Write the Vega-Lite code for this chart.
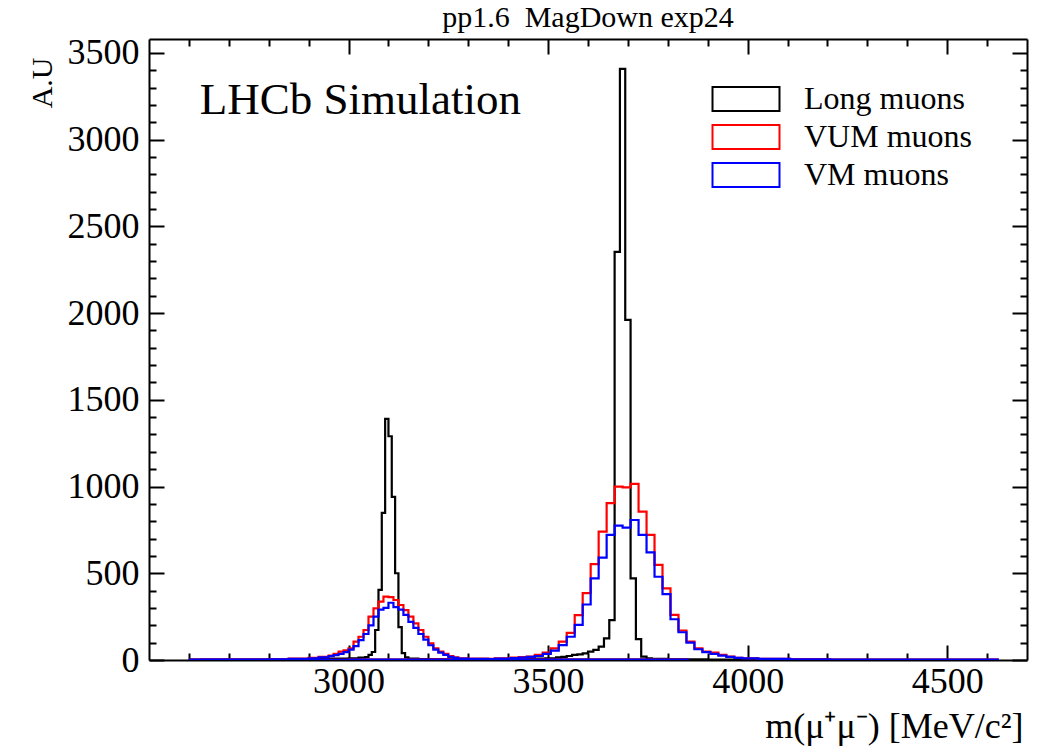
{
  "$schema": "https://vega.github.io/schema/vega-lite/v6.json",
  "width": 878,
  "height": 621,
  "autosize": {"type": "none"},
  "padding": {"left": 149, "top": 39, "right": 14, "bottom": 89},
  "background": "white",
  "config": {"font": "Liberation Serif", "view": {"stroke": null}},
  "title": {"text": "pp1.6\u00a0 MagDown exp24", "font": "Liberation Serif", "fontSize": 30, "fontWeight": "normal", "color": "black", "anchor": "middle", "offset": 2},
  "layer": [
    {
      "data": {"values": [
        {"sample":"Long muons","peak":"jpsi","mass":2600,"count":2},
        {"sample":"Long muons","peak":"jpsi","mass":2700,"count":3},
        {"sample":"Long muons","peak":"jpsi","mass":2800,"count":4},
        {"sample":"Long muons","peak":"jpsi","mass":2900,"count":6},
        {"sample":"Long muons","peak":"jpsi","mass":2950,"count":8},
        {"sample":"Long muons","peak":"jpsi","mass":3000,"count":10},
        {"sample":"Long muons","peak":"jpsi","mass":3025,"count":14},
        {"sample":"Long muons","peak":"jpsi","mass":3041.7,"count":17},
        {"sample":"Long muons","peak":"jpsi","mass":3050,"count":30},
        {"sample":"Long muons","peak":"jpsi","mass":3058.3,"count":46},
        {"sample":"Long muons","peak":"jpsi","mass":3066.7,"count":173},
        {"sample":"Long muons","peak":"jpsi","mass":3075,"count":404},
        {"sample":"Long muons","peak":"jpsi","mass":3083.3,"count":848},
        {"sample":"Long muons","peak":"jpsi","mass":3091.7,"count":1390},
        {"sample":"Long muons","peak":"jpsi","mass":3100,"count":1290},
        {"sample":"Long muons","peak":"jpsi","mass":3108.3,"count":940},
        {"sample":"Long muons","peak":"jpsi","mass":3116.7,"count":500},
        {"sample":"Long muons","peak":"jpsi","mass":3125,"count":190},
        {"sample":"Long muons","peak":"jpsi","mass":3133.3,"count":40},
        {"sample":"Long muons","peak":"jpsi","mass":3141.7,"count":15},
        {"sample":"Long muons","peak":"jpsi","mass":3150,"count":8},
        {"sample":"Long muons","peak":"jpsi","mass":3175,"count":5},
        {"sample":"Long muons","peak":"jpsi","mass":3250,"count":3},
        {"sample":"Long muons","peak":"jpsi","mass":3400,"count":2},
        {"sample":"Long muons","peak":"jpsi","mass":3850,"count":0},
        {"sample":"Long muons","peak":"psi2s","mass":2626.7,"count":0},
        {"sample":"Long muons","peak":"psi2s","mass":3000,"count":1},
        {"sample":"Long muons","peak":"psi2s","mass":3300,"count":3},
        {"sample":"Long muons","peak":"psi2s","mass":3400,"count":6},
        {"sample":"Long muons","peak":"psi2s","mass":3453.3,"count":8},
        {"sample":"Long muons","peak":"psi2s","mass":3493.3,"count":10},
        {"sample":"Long muons","peak":"psi2s","mass":3520,"count":15},
        {"sample":"Long muons","peak":"psi2s","mass":3533.3,"count":18},
        {"sample":"Long muons","peak":"psi2s","mass":3546.7,"count":23},
        {"sample":"Long muons","peak":"psi2s","mass":3560,"count":30},
        {"sample":"Long muons","peak":"psi2s","mass":3573.3,"count":33},
        {"sample":"Long muons","peak":"psi2s","mass":3586.7,"count":38},
        {"sample":"Long muons","peak":"psi2s","mass":3600,"count":48},
        {"sample":"Long muons","peak":"psi2s","mass":3613.3,"count":58},
        {"sample":"Long muons","peak":"psi2s","mass":3626.7,"count":77},
        {"sample":"Long muons","peak":"psi2s","mass":3640,"count":125},
        {"sample":"Long muons","peak":"psi2s","mass":3653.3,"count":230},
        {"sample":"Long muons","peak":"psi2s","mass":3666.7,"count":2353},
        {"sample":"Long muons","peak":"psi2s","mass":3680,"count":3408},
        {"sample":"Long muons","peak":"psi2s","mass":3693.3,"count":1961},
        {"sample":"Long muons","peak":"psi2s","mass":3706.7,"count":470},
        {"sample":"Long muons","peak":"psi2s","mass":3720,"count":120},
        {"sample":"Long muons","peak":"psi2s","mass":3733.3,"count":20},
        {"sample":"Long muons","peak":"psi2s","mass":3746.7,"count":10},
        {"sample":"Long muons","peak":"psi2s","mass":3760,"count":6},
        {"sample":"Long muons","peak":"psi2s","mass":3800,"count":4},
        {"sample":"Long muons","peak":"psi2s","mass":3900,"count":2},
        {"sample":"Long muons","peak":"psi2s","mass":4000,"count":1},
        {"sample":"Long muons","peak":"psi2s","mass":4626.7,"count":0},

        {"sample":"VUM muons","peak":"jpsi","mass":2600,"count":2},
        {"sample":"VUM muons","peak":"jpsi","mass":2700,"count":3},
        {"sample":"VUM muons","peak":"jpsi","mass":2800,"count":5},
        {"sample":"VUM muons","peak":"jpsi","mass":2850,"count":8},
        {"sample":"VUM muons","peak":"jpsi","mass":2900,"count":12},
        {"sample":"VUM muons","peak":"jpsi","mass":2925,"count":18},
        {"sample":"VUM muons","peak":"jpsi","mass":2950,"count":25},
        {"sample":"VUM muons","peak":"jpsi","mass":2962.5,"count":35},
        {"sample":"VUM muons","peak":"jpsi","mass":2975,"count":48},
        {"sample":"VUM muons","peak":"jpsi","mass":2987.5,"count":55},
        {"sample":"VUM muons","peak":"jpsi","mass":3000,"count":67},
        {"sample":"VUM muons","peak":"jpsi","mass":3012.5,"count":106},
        {"sample":"VUM muons","peak":"jpsi","mass":3025,"count":134},
        {"sample":"VUM muons","peak":"jpsi","mass":3037.5,"count":173},
        {"sample":"VUM muons","peak":"jpsi","mass":3050,"count":250},
        {"sample":"VUM muons","peak":"jpsi","mass":3062.5,"count":298},
        {"sample":"VUM muons","peak":"jpsi","mass":3075,"count":336},
        {"sample":"VUM muons","peak":"jpsi","mass":3087.5,"count":365},
        {"sample":"VUM muons","peak":"jpsi","mass":3100,"count":362},
        {"sample":"VUM muons","peak":"jpsi","mass":3112.5,"count":346},
        {"sample":"VUM muons","peak":"jpsi","mass":3125,"count":317},
        {"sample":"VUM muons","peak":"jpsi","mass":3137.5,"count":288},
        {"sample":"VUM muons","peak":"jpsi","mass":3150,"count":250},
        {"sample":"VUM muons","peak":"jpsi","mass":3162.5,"count":211},
        {"sample":"VUM muons","peak":"jpsi","mass":3175,"count":173},
        {"sample":"VUM muons","peak":"jpsi","mass":3187.5,"count":134},
        {"sample":"VUM muons","peak":"jpsi","mass":3200,"count":96},
        {"sample":"VUM muons","peak":"jpsi","mass":3212.5,"count":67},
        {"sample":"VUM muons","peak":"jpsi","mass":3225,"count":48},
        {"sample":"VUM muons","peak":"jpsi","mass":3237.5,"count":35},
        {"sample":"VUM muons","peak":"jpsi","mass":3250,"count":22},
        {"sample":"VUM muons","peak":"jpsi","mass":3262.5,"count":15},
        {"sample":"VUM muons","peak":"jpsi","mass":3275,"count":10},
        {"sample":"VUM muons","peak":"jpsi","mass":3300,"count":7},
        {"sample":"VUM muons","peak":"jpsi","mass":3350,"count":4},
        {"sample":"VUM muons","peak":"jpsi","mass":3450,"count":2},
        {"sample":"VUM muons","peak":"jpsi","mass":3850,"count":0},
        {"sample":"VUM muons","peak":"psi2s","mass":2626.7,"count":1},
        {"sample":"VUM muons","peak":"psi2s","mass":3000,"count":2},
        {"sample":"VUM muons","peak":"psi2s","mass":3206.7,"count":4},
        {"sample":"VUM muons","peak":"psi2s","mass":3306.7,"count":7},
        {"sample":"VUM muons","peak":"psi2s","mass":3366.7,"count":10},
        {"sample":"VUM muons","peak":"psi2s","mass":3406.7,"count":14},
        {"sample":"VUM muons","peak":"psi2s","mass":3426.7,"count":17},
        {"sample":"VUM muons","peak":"psi2s","mass":3446.7,"count":20},
        {"sample":"VUM muons","peak":"psi2s","mass":3466.7,"count":29},
        {"sample":"VUM muons","peak":"psi2s","mass":3486.7,"count":42},
        {"sample":"VUM muons","peak":"psi2s","mass":3506.7,"count":67},
        {"sample":"VUM muons","peak":"psi2s","mass":3526.7,"count":106},
        {"sample":"VUM muons","peak":"psi2s","mass":3546.7,"count":156},
        {"sample":"VUM muons","peak":"psi2s","mass":3566.7,"count":259},
        {"sample":"VUM muons","peak":"psi2s","mass":3586.7,"count":386},
        {"sample":"VUM muons","peak":"psi2s","mass":3606.7,"count":553},
        {"sample":"VUM muons","peak":"psi2s","mass":3626.7,"count":740},
        {"sample":"VUM muons","peak":"psi2s","mass":3646.7,"count":904},
        {"sample":"VUM muons","peak":"psi2s","mass":3666.7,"count":1000},
        {"sample":"VUM muons","peak":"psi2s","mass":3686.7,"count":995},
        {"sample":"VUM muons","peak":"psi2s","mass":3706.7,"count":1015},
        {"sample":"VUM muons","peak":"psi2s","mass":3726.7,"count":855},
        {"sample":"VUM muons","peak":"psi2s","mass":3746.7,"count":721},
        {"sample":"VUM muons","peak":"psi2s","mass":3766.7,"count":548},
        {"sample":"VUM muons","peak":"psi2s","mass":3786.7,"count":413},
        {"sample":"VUM muons","peak":"psi2s","mass":3806.7,"count":260},
        {"sample":"VUM muons","peak":"psi2s","mass":3826.7,"count":170},
        {"sample":"VUM muons","peak":"psi2s","mass":3846.7,"count":106},
        {"sample":"VUM muons","peak":"psi2s","mass":3866.7,"count":67},
        {"sample":"VUM muons","peak":"psi2s","mass":3886.7,"count":48},
        {"sample":"VUM muons","peak":"psi2s","mass":3906.7,"count":42},
        {"sample":"VUM muons","peak":"psi2s","mass":3926.7,"count":29},
        {"sample":"VUM muons","peak":"psi2s","mass":3946.7,"count":20},
        {"sample":"VUM muons","peak":"psi2s","mass":3966.7,"count":13},
        {"sample":"VUM muons","peak":"psi2s","mass":3986.7,"count":10},
        {"sample":"VUM muons","peak":"psi2s","mass":4026.7,"count":7},
        {"sample":"VUM muons","peak":"psi2s","mass":4106.7,"count":5},
        {"sample":"VUM muons","peak":"psi2s","mass":4206.7,"count":3},
        {"sample":"VUM muons","peak":"psi2s","mass":4406.7,"count":2},
        {"sample":"VUM muons","peak":"psi2s","mass":4626.7,"count":0},

        {"sample":"VM muons","peak":"jpsi","mass":2600,"count":2},
        {"sample":"VM muons","peak":"jpsi","mass":2700,"count":3},
        {"sample":"VM muons","peak":"jpsi","mass":2800,"count":4},
        {"sample":"VM muons","peak":"jpsi","mass":2850,"count":7},
        {"sample":"VM muons","peak":"jpsi","mass":2900,"count":10},
        {"sample":"VM muons","peak":"jpsi","mass":2925,"count":15},
        {"sample":"VM muons","peak":"jpsi","mass":2950,"count":22},
        {"sample":"VM muons","peak":"jpsi","mass":2962.5,"count":28},
        {"sample":"VM muons","peak":"jpsi","mass":2975,"count":35},
        {"sample":"VM muons","peak":"jpsi","mass":2987.5,"count":45},
        {"sample":"VM muons","peak":"jpsi","mass":3000,"count":60},
        {"sample":"VM muons","peak":"jpsi","mass":3012.5,"count":80},
        {"sample":"VM muons","peak":"jpsi","mass":3025,"count":115},
        {"sample":"VM muons","peak":"jpsi","mass":3037.5,"count":150},
        {"sample":"VM muons","peak":"jpsi","mass":3050,"count":200},
        {"sample":"VM muons","peak":"jpsi","mass":3062.5,"count":250},
        {"sample":"VM muons","peak":"jpsi","mass":3075,"count":290},
        {"sample":"VM muons","peak":"jpsi","mass":3087.5,"count":300},
        {"sample":"VM muons","peak":"jpsi","mass":3100,"count":330},
        {"sample":"VM muons","peak":"jpsi","mass":3112.5,"count":305},
        {"sample":"VM muons","peak":"jpsi","mass":3125,"count":290},
        {"sample":"VM muons","peak":"jpsi","mass":3137.5,"count":260},
        {"sample":"VM muons","peak":"jpsi","mass":3150,"count":220},
        {"sample":"VM muons","peak":"jpsi","mass":3162.5,"count":185},
        {"sample":"VM muons","peak":"jpsi","mass":3175,"count":150},
        {"sample":"VM muons","peak":"jpsi","mass":3187.5,"count":118},
        {"sample":"VM muons","peak":"jpsi","mass":3200,"count":85},
        {"sample":"VM muons","peak":"jpsi","mass":3212.5,"count":60},
        {"sample":"VM muons","peak":"jpsi","mass":3225,"count":42},
        {"sample":"VM muons","peak":"jpsi","mass":3237.5,"count":30},
        {"sample":"VM muons","peak":"jpsi","mass":3250,"count":18},
        {"sample":"VM muons","peak":"jpsi","mass":3262.5,"count":12},
        {"sample":"VM muons","peak":"jpsi","mass":3275,"count":8},
        {"sample":"VM muons","peak":"jpsi","mass":3300,"count":6},
        {"sample":"VM muons","peak":"jpsi","mass":3350,"count":3},
        {"sample":"VM muons","peak":"jpsi","mass":3450,"count":2},
        {"sample":"VM muons","peak":"jpsi","mass":3850,"count":0},
        {"sample":"VM muons","peak":"psi2s","mass":2626.7,"count":1},
        {"sample":"VM muons","peak":"psi2s","mass":3000,"count":2},
        {"sample":"VM muons","peak":"psi2s","mass":3206.7,"count":3},
        {"sample":"VM muons","peak":"psi2s","mass":3306.7,"count":5},
        {"sample":"VM muons","peak":"psi2s","mass":3366.7,"count":8},
        {"sample":"VM muons","peak":"psi2s","mass":3406.7,"count":11},
        {"sample":"VM muons","peak":"psi2s","mass":3426.7,"count":14},
        {"sample":"VM muons","peak":"psi2s","mass":3446.7,"count":18},
        {"sample":"VM muons","peak":"psi2s","mass":3466.7,"count":23},
        {"sample":"VM muons","peak":"psi2s","mass":3486.7,"count":35},
        {"sample":"VM muons","peak":"psi2s","mass":3506.7,"count":54},
        {"sample":"VM muons","peak":"psi2s","mass":3526.7,"count":86},
        {"sample":"VM muons","peak":"psi2s","mass":3546.7,"count":134},
        {"sample":"VM muons","peak":"psi2s","mass":3566.7,"count":202},
        {"sample":"VM muons","peak":"psi2s","mass":3586.7,"count":320},
        {"sample":"VM muons","peak":"psi2s","mass":3606.7,"count":470},
        {"sample":"VM muons","peak":"psi2s","mass":3626.7,"count":590},
        {"sample":"VM muons","peak":"psi2s","mass":3646.7,"count":721},
        {"sample":"VM muons","peak":"psi2s","mass":3666.7,"count":775},
        {"sample":"VM muons","peak":"psi2s","mass":3686.7,"count":763},
        {"sample":"VM muons","peak":"psi2s","mass":3706.7,"count":807},
        {"sample":"VM muons","peak":"psi2s","mass":3726.7,"count":721},
        {"sample":"VM muons","peak":"psi2s","mass":3746.7,"count":620},
        {"sample":"VM muons","peak":"psi2s","mass":3766.7,"count":480},
        {"sample":"VM muons","peak":"psi2s","mass":3786.7,"count":380},
        {"sample":"VM muons","peak":"psi2s","mass":3806.7,"count":235},
        {"sample":"VM muons","peak":"psi2s","mass":3826.7,"count":160},
        {"sample":"VM muons","peak":"psi2s","mass":3846.7,"count":100},
        {"sample":"VM muons","peak":"psi2s","mass":3866.7,"count":62},
        {"sample":"VM muons","peak":"psi2s","mass":3886.7,"count":45},
        {"sample":"VM muons","peak":"psi2s","mass":3906.7,"count":35},
        {"sample":"VM muons","peak":"psi2s","mass":3926.7,"count":25},
        {"sample":"VM muons","peak":"psi2s","mass":3946.7,"count":18},
        {"sample":"VM muons","peak":"psi2s","mass":3966.7,"count":12},
        {"sample":"VM muons","peak":"psi2s","mass":3986.7,"count":9},
        {"sample":"VM muons","peak":"psi2s","mass":4026.7,"count":6},
        {"sample":"VM muons","peak":"psi2s","mass":4106.7,"count":4},
        {"sample":"VM muons","peak":"psi2s","mass":4206.7,"count":3},
        {"sample":"VM muons","peak":"psi2s","mass":4406.7,"count":2},
        {"sample":"VM muons","peak":"psi2s","mass":4626.7,"count":0}
      ]},
      "mark": {"type": "line", "interpolate": "step-after", "strokeWidth": 2.2, "clip": true},
      "encoding": {
        "x": {
          "field": "mass", "type": "quantitative",
          "scale": {"domain": [2500, 4700], "nice": false, "zero": false},
          "axis": {
            "orient": "bottom",
            "values": [2600,2700,2800,2900,3000,3100,3200,3300,3400,3500,3600,3700,3800,3900,4000,4100,4200,4300,4400,4500,4600],
            "format": "d",
            "labelExpr": "datum.value % 500 === 0 ? datum.label : ''",
            "tickSize": {"condition": {"test": "datum.value % 500 === 0", "value": -15}, "value": -7},
            "tickWidth": 2, "tickColor": "black",
            "domainWidth": 2, "domainColor": "black",
            "grid": false,
            "labelFont": "Liberation Serif", "labelFontSize": 36, "labelColor": "black", "labelPadding": 19,
            "title": "m(μ⁺μ⁻) [MeV/c²]",
            "titleFont": "Liberation Serif", "titleFontSize": 36, "titleFontWeight": "normal", "titleColor": "black",
            "titleAlign": "right", "titleBaseline": "alphabetic", "titleAnchor": "end",
            "titleX": 874, "titleY": 77
          }
        },
        "y": {
          "field": "count", "type": "quantitative",
          "scale": {"domain": [0, 3580], "nice": false, "zero": true},
          "axis": {
            "orient": "left",
            "values": [0,100,200,300,400,500,600,700,800,900,1000,1100,1200,1300,1400,1500,1600,1700,1800,1900,2000,2100,2200,2300,2400,2500,2600,2700,2800,2900,3000,3100,3200,3300,3400,3500],
            "format": "d",
            "labelExpr": "datum.value % 500 === 0 ? datum.label : ''",
            "tickSize": {"condition": {"test": "datum.value % 500 === 0", "value": -15}, "value": -7},
            "tickWidth": 2, "tickColor": "black",
            "domainWidth": 2, "domainColor": "black",
            "grid": false,
            "labelFont": "Liberation Serif", "labelFontSize": 36, "labelColor": "black", "labelPadding": 25,
            "title": "A.U",
            "titleFont": "Liberation Serif", "titleFontSize": 30, "titleFontWeight": "normal", "titleColor": "black",
            "titleAngle": -90, "titleAlign": "right", "titleBaseline": "alphabetic", "titleAnchor": "end",
            "titleX": -98, "titleY": 18
          }
        },
        "color": {
          "field": "sample", "type": "nominal",
          "scale": {"domain": ["Long muons", "VUM muons", "VM muons"], "range": ["#000000", "#ff0000", "#0000ff"]},
          "legend": {
            "orient": "none", "legendX": 579, "legendY": 42,
            "title": null,
            "padding": 0,
            "symbolType": "M-2,-0.72H2V0.72H-2Z",
            "symbolSize": 1122,
            "symbolStrokeWidth": 2,
            "symbolFillColor": "transparent",
            "labelFont": "Liberation Serif", "labelFontSize": 32, "labelColor": "black",
            "labelOffset": 40,
            "labelLimit": 400,
            "rowPadding": 3
          }
        },
        "detail": {"field": "peak", "type": "nominal"}
      }
    },
    {
      "data": {"values": [{}]},
      "mark": {"type": "text", "text": "LHCb Simulation", "align": "left", "baseline": "alphabetic", "font": "Liberation Serif", "fontSize": 45, "color": "black"},
      "encoding": {
        "x": {
          "datum": 2627, "type": "quantitative",
          "axis": {
            "orient": "top",
            "values": [2600,2700,2800,2900,3000,3100,3200,3300,3400,3500,3600,3700,3800,3900,4000,4100,4200,4300,4400,4500,4600],
            "labels": false,
            "tickSize": {"condition": {"test": "datum.value % 500 === 0", "value": -15}, "value": -7},
            "tickWidth": 2, "tickColor": "black",
            "domainWidth": 2, "domainColor": "black",
            "grid": false, "title": null
          }
        },
        "y": {
          "datum": 3150, "type": "quantitative",
          "axis": {
            "orient": "right",
            "values": [0,100,200,300,400,500,600,700,800,900,1000,1100,1200,1300,1400,1500,1600,1700,1800,1900,2000,2100,2200,2300,2400,2500,2600,2700,2800,2900,3000,3100,3200,3300,3400,3500],
            "labels": false,
            "tickSize": {"condition": {"test": "datum.value % 500 === 0", "value": -15}, "value": -7},
            "tickWidth": 2, "tickColor": "black",
            "domainWidth": 2, "domainColor": "black",
            "grid": false, "title": null
          }
        }
      }
    }
  ],
  "resolve": {"axis": {"x": "independent", "y": "independent"}}
}
